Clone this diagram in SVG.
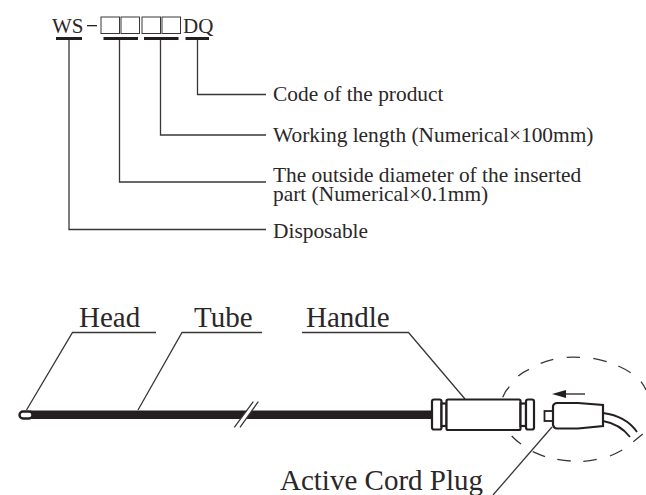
<svg xmlns="http://www.w3.org/2000/svg" width="646" height="495" viewBox="0 0 646 495">
<style>
text{font-family:"Liberation Serif","Times New Roman",serif;fill:#2b2728}
.s{font-size:21.4px}
.b{font-size:29px}
.c{font-size:21px}
.l{fill:none;stroke:#3a3637;stroke-width:1.3}
.k{fill:#fff;stroke:#231f20;stroke-width:2.2}
.bar{fill:#231f20}
.box{fill:none;stroke:#3a3637;stroke-width:1}
</style>
<rect width="646" height="495" fill="#fff"/>
<g id="code">
<text class="c" x="52" y="33">WS</text>
<rect x="87" y="25" width="10" height="1.300" fill="#231f20"/>
<rect class="box" x="101" y="17" width="18.500" height="16.500"/>
<rect class="box" x="121" y="17" width="18.500" height="16.500"/>
<rect class="box" x="142" y="17" width="18.500" height="16.500"/>
<rect class="box" x="162" y="17" width="18.500" height="16.500"/>
<text class="c" x="183" y="33">DQ</text>
<rect class="bar" x="56" y="37" width="26" height="3"/>
<rect class="bar" x="103.500" y="37" width="34.500" height="3"/>
<rect class="bar" x="144" y="37" width="34.500" height="3"/>
<rect class="bar" x="185.500" y="37" width="23.500" height="3"/>
</g>
<g id="connectors">
<path class="l" d="M197.500 40V94.500H266"/>
<path class="l" d="M160.500 40V135H266"/>
<path class="l" d="M119.500 40V182H266"/>
<path class="l" d="M69 40V229.500H266"/>
<path class="l" d="M156 332.500H72.500L26.500 410"/>
<path class="l" d="M262 332.500H182L138 410"/>
<path class="l" d="M302 332.500H408.500L465 399"/>
<path class="l" d="M552 427L493 495"/>
</g>
<g id="label-product"><text class="s" x="273" y="101">Code of the product</text></g>
<g id="label-length"><text class="s" x="273" y="142">Working length (Numerical×100mm)</text></g>
<g id="label-diameter"><text class="s" x="273" y="182">The outside diameter of the inserted</text><text class="s" x="273" y="201">part (Numerical×0.1mm)</text></g>
<g id="label-disposable"><text class="s" x="273" y="238">Disposable</text></g>
<g id="label-head"><text class="b" x="79" y="327">Head</text></g>
<g id="label-tube"><text class="b" x="194" y="327">Tube</text></g>
<g id="label-handle"><text class="b" x="306" y="327">Handle</text></g>
<g id="label-plug"><text class="b" x="280" y="490">Active Cord Plug</text></g>
<g id="tube">
<rect x="30" y="410.500" width="402" height="8.500" fill="#231f20"/>
<rect x="19.500" y="411.500" width="13" height="7" rx="3.500" fill="#fff" stroke="#231f20" stroke-width="2.400"/>
<path d="M253.300 401.700H258.300L240 427.300H234.300Z" fill="#fff"/>
<path class="l" d="M253.300 401.700L234.300 427.300M258.300 401.700L240 427.300"/>
</g>
<g id="detail-circle">
<path class="l" d="M502.700 397.300Q505 391 509.300 386.700M518.300 376Q523 372 529 369.300M540.700 363.300Q547 361 553.300 359.300M566.700 357.300Q573 356.800 580 357.300M593.300 358.300Q600 359.500 606.700 361.700M618.300 366Q625 369 630.700 372.700M641 381.700Q644 385.500 646 390M642.700 434Q638 438 633.300 441.700M622.300 450Q616 453.500 610 456M596.700 459.300Q590 460.800 583.300 461.300M570.700 461Q564 460.600 557.300 459.300M545 456.700Q539 454.500 532.700 451.700M521 444Q516 440.500 511.700 436"/>
</g>
<g id="handle">
<rect class="k" x="432" y="399.500" width="9.500" height="30" rx="2"/>
<rect class="k" x="441.500" y="403.500" width="5" height="22.500"/>
<rect class="k" x="446.500" y="399.500" width="74" height="30.500" rx="1.500"/>
<rect class="k" x="520.500" y="403.500" width="5.500" height="22.500"/>
<rect class="k" x="526" y="399.500" width="8" height="30" rx="2"/>
</g>
<g id="plug">
<rect x="544.500" y="411" width="8.500" height="10" fill="#fff" stroke="#231f20" stroke-width="1.800"/>
<path class="k" d="M553 406Q554 403 557 403H578L603 405V426L578 428.500H557Q554 428.500 553 425Z"/>
<path d="M603 413Q626 416 637 432M603 421Q620 424 630 437" fill="none" stroke="#231f20" stroke-width="1.800"/>
<path d="M585 394H562" stroke="#231f20" stroke-width="1.300"/>
<path d="M552 394L566 390V398Z" fill="#231f20"/>
</g>
</svg>
